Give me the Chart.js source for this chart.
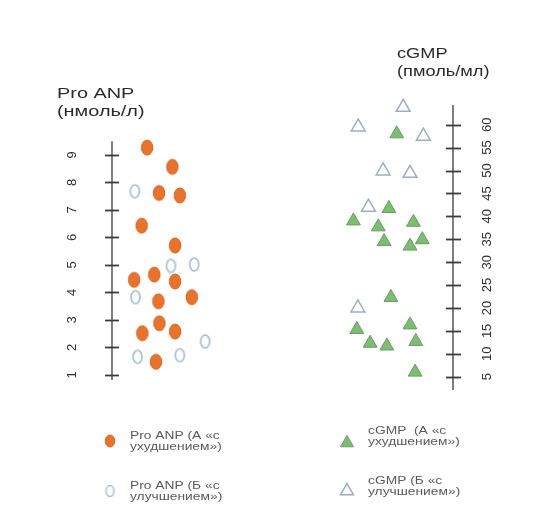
<!DOCTYPE html>
<html>
<head>
<meta charset="utf-8">
<script src="https://cdn.jsdelivr.net/npm/chart.js@4/dist/chart.umd.min.js"></script>
<style>
  html, body { margin: 0; padding: 0; background: #ffffff; }
  #wrap { position: relative; width: 558px; height: 513px; }
</style>
</head>
<body>
<div id="wrap"><canvas id="c" width="558" height="513"></canvas></div>
<script>
// Axis tick values
const anpTicks = [1, 2, 3, 4, 5, 6, 7, 8, 9];
const cgmpTicks = [5, 10, 15, 20, 25, 30, 35, 40, 45, 50, 55, 60];

// Pro ANP, group A (worsening): horizontal jitter position and value, нмоль/л
const anpWorseX = [10.3, 17.7, 13.8, 19.9, 8.7, 18.5, 6.5, 12.4, 18.5, 13.6, 23.4, 13.9, 8.9, 18.5, 12.9];
const anpWorseY = [9.27, 8.57, 7.62, 7.53, 6.43, 5.71, 4.46, 4.65, 4.40, 3.68, 3.83, 2.88, 2.52, 2.58, 1.48];

// Pro ANP, group Б (improvement)
const anpBetterX = [6.7, 17.3, 24.1, 6.9, 27.3, 7.5, 19.9];
const anpBetterY = [7.68, 4.97, 5.02, 3.83, 2.22, 1.66, 1.72];

// cGMP, group A (worsening), пмоль/мл
const cgmpWorseX = [83.5, 81.2, 70.8, 78.1, 88.4, 79.8, 91.0, 87.4, 81.8, 71.8, 87.4, 75.7, 80.6, 89.1, 88.9];
const cgmpWorseY = [58.0, 41.7, 39.0, 37.7, 38.7, 34.5, 34.9, 33.5, 22.3, 15.3, 16.3, 12.3, 11.7, 12.7, 6.0];

// cGMP, group Б (improvement)
const cgmpBetterX = [85.4, 72.2, 91.3, 79.5, 87.4, 75.2, 72.1];
const cgmpBetterY = [63.8, 59.5, 57.5, 49.9, 49.4, 42.0, 20.0];

// Axis titles and legend texts
const anpTitle = ['Pro ANP', '(нмоль/л)'];
const cgmpTitle = ['cGMP', '(пмоль/мл)'];
const seriesLabels = [
  ['Pro ANP (А «с', 'ухудшением»)'],
  ['Pro ANP (Б «с', 'улучшением»)'],
  ['cGMP  (А «с', 'ухудшением»)'],
  ['cGMP (Б «с', 'улучшением»)']
];

const FONT = '"Liberation Sans", Arial, sans-serif';

function ellipseImage(w, h, fill, stroke, lw) {
  const c = document.createElement('canvas');
  c.width = Math.ceil(w + lw * 2 + 2);
  c.height = Math.ceil(h + lw * 2 + 2);
  const g = c.getContext('2d');
  g.beginPath();
  g.ellipse(c.width / 2, c.height / 2, w / 2, h / 2, 0, 0, Math.PI * 2);
  g.fillStyle = fill;
  g.fill();
  g.strokeStyle = stroke;
  g.lineWidth = lw;
  g.stroke();
  return c;
}

const orangeDot = ellipseImage(11.5, 15, '#e8732c', '#cf6424', 1);
const blueRing = ellipseImage(9, 13, '#ffffff', '#a9bdd2', 1.7);
const orangeDotSmall = ellipseImage(9.5, 12, '#e8732c', '#cf6424', 1);
const blueRingSmall = ellipseImage(8, 11, '#ffffff', '#a9bdd2', 1.5);

function pts(xs, ys) { return xs.map((x, i) => ({ x: x, y: ys[i] })); }

// Hand-drawn axes: a line over a value range with ticks crossing it
const axisPlugin = {
  id: 'axisLines',
  afterDraw(chart) {
    const ctx = chart.ctx;
    const axes = [
      { scale: chart.scales.yA, from: 0.82, to: 9.5, left: 7, right: 7 },
      { scale: chart.scales.yC, from: 2.1, to: 64.3, left: 7, right: 8 }
    ];
    ctx.save();
    ctx.strokeStyle = '#3a3a3a';
    axes.forEach(a => {
      const s = a.scale;
      const x = s.position === 'left' ? s.right : s.left;
      ctx.lineWidth = 1.3;
      ctx.beginPath();
      ctx.moveTo(x, s.getPixelForValue(a.from));
      ctx.lineTo(x, s.getPixelForValue(a.to));
      ctx.stroke();
      ctx.lineWidth = 1.8;
      s.ticks.forEach(t => {
        const y = Math.round(s.getPixelForValue(t.value)) + 0.5;
        ctx.beginPath();
        ctx.moveTo(x - a.left, y);
        ctx.lineTo(x + a.right, y);
        ctx.stroke();
      });
    });
    ctx.restore();
  }
};

function stretchedText(ctx, text, x, y, size, color, sx) {
  ctx.save();
  ctx.translate(x, y);
  ctx.scale(sx, 1);
  ctx.font = size + 'px ' + FONT;
  ctx.fillStyle = color;
  ctx.textAlign = 'left';
  ctx.textBaseline = 'middle';
  ctx.fillText(text, 0, 0);
  ctx.restore();
}

// Axis titles and the two-column legend under the plot
const textPlugin = {
  id: 'titlesLegend',
  afterDraw(chart) {
    const ctx = chart.ctx;
    stretchedText(ctx, anpTitle[0], 57, 94, 14, '#2a2a2a', 1.42);
    stretchedText(ctx, anpTitle[1], 57, 112, 14, '#2a2a2a', 1.42);
    stretchedText(ctx, cgmpTitle[0], 397, 54, 14, '#2a2a2a', 1.3);
    stretchedText(ctx, cgmpTitle[1], 397, 72.5, 14, '#2a2a2a', 1.3);

    const entries = [
      { ds: 0, mx: 110, my: 441, tx: 130, ty: [436, 447], style: orangeDotSmall },
      { ds: 1, mx: 110, my: 491, tx: 130, ty: [486, 497], style: blueRingSmall },
      { ds: 2, mx: 347, my: 443, tx: 368, ty: [431, 442], style: null },
      { ds: 3, mx: 347, my: 491, tx: 368, ty: [481, 492], style: null }
    ];
    entries.forEach(e => {
      const d = chart.data.datasets[e.ds];
      ctx.save();
      ctx.fillStyle = d.pointBackgroundColor;
      ctx.strokeStyle = d.pointBorderColor;
      ctx.lineWidth = d.pointBorderWidth;
      Chart.helpers.drawPoint(ctx, {
        pointStyle: e.style || d.pointStyle,
        radius: 7.5,
        rotation: 0,
        borderWidth: d.pointBorderWidth
      }, e.mx, e.my);
      ctx.restore();
      seriesLabels[e.ds].forEach((line, i) => {
        stretchedText(ctx, line, e.tx, e.ty[i], 10, '#5a5a5a', 1.38);
      });
    });
  }
};

new Chart(document.getElementById('c'), {
  type: 'scatter',
  data: {
    datasets: [
      {
        label: seriesLabels[0].join(' '),
        data: pts(anpWorseX, anpWorseY),
        yAxisID: 'yA',
        pointStyle: orangeDot,
        pointRadius: 7,
        pointBackgroundColor: '#e8732c',
        pointBorderColor: '#cf6424',
        pointBorderWidth: 1
      },
      {
        label: seriesLabels[1].join(' '),
        data: pts(anpBetterX, anpBetterY),
        yAxisID: 'yA',
        pointStyle: blueRing,
        pointRadius: 7,
        pointBackgroundColor: '#ffffff',
        pointBorderColor: '#a9bdd2',
        pointBorderWidth: 1.6
      },
      {
        label: seriesLabels[2].join(' '),
        data: pts(cgmpWorseX, cgmpWorseY),
        yAxisID: 'yC',
        pointStyle: 'triangle',
        pointRadius: 8,
        pointBackgroundColor: '#7cbd72',
        pointBorderColor: '#6f9a6b',
        pointBorderWidth: 1
      },
      {
        label: seriesLabels[3].join(' '),
        data: pts(cgmpBetterX, cgmpBetterY),
        yAxisID: 'yC',
        pointStyle: 'triangle',
        pointRadius: 8,
        pointBackgroundColor: '#ffffff',
        pointBorderColor: '#9caec3',
        pointBorderWidth: 1.5
      }
    ]
  },
  options: {
    responsive: false,
    animation: false,
    devicePixelRatio: 1,
    layout: { padding: { left: 0, right: 0, top: 95, bottom: 118 } },
    plugins: {
      legend: { display: false },
      tooltip: { enabled: false },
      title: { display: false }
    },
    scales: {
      x: { type: 'linear', min: 0, max: 100, display: false },
      yA: {
        type: 'linear',
        position: 'left',
        min: 0.2727,
        max: 11.1818,
        afterFit(s) { s.width = 112; },
        afterBuildTicks(s) { s.ticks = anpTicks.map(v => ({ value: v })); },
        grid: { display: false, drawTicks: false },
        border: { display: false },
        ticks: {
          autoSkip: false,
          minRotation: 90,
          maxRotation: 90,
          crossAlign: 'center',
          padding: 36,
          color: '#2e2e2e',
          font: { family: FONT, size: 13 }
        }
      },
      yC: {
        type: 'linear',
        position: 'right',
        min: 1.006,
        max: 66.48,
        afterFit(s) { s.width = 105; },
        afterBuildTicks(s) { s.ticks = cgmpTicks.map(v => ({ value: v })); },
        grid: { display: false, drawTicks: false },
        border: { display: false },
        ticks: {
          autoSkip: false,
          minRotation: 90,
          maxRotation: 90,
          crossAlign: 'center',
          padding: 27,
          color: '#2e2e2e',
          font: { family: FONT, size: 13 }
        }
      }
    }
  },
  plugins: [axisPlugin, textPlugin]
});
</script>
</body>
</html>
